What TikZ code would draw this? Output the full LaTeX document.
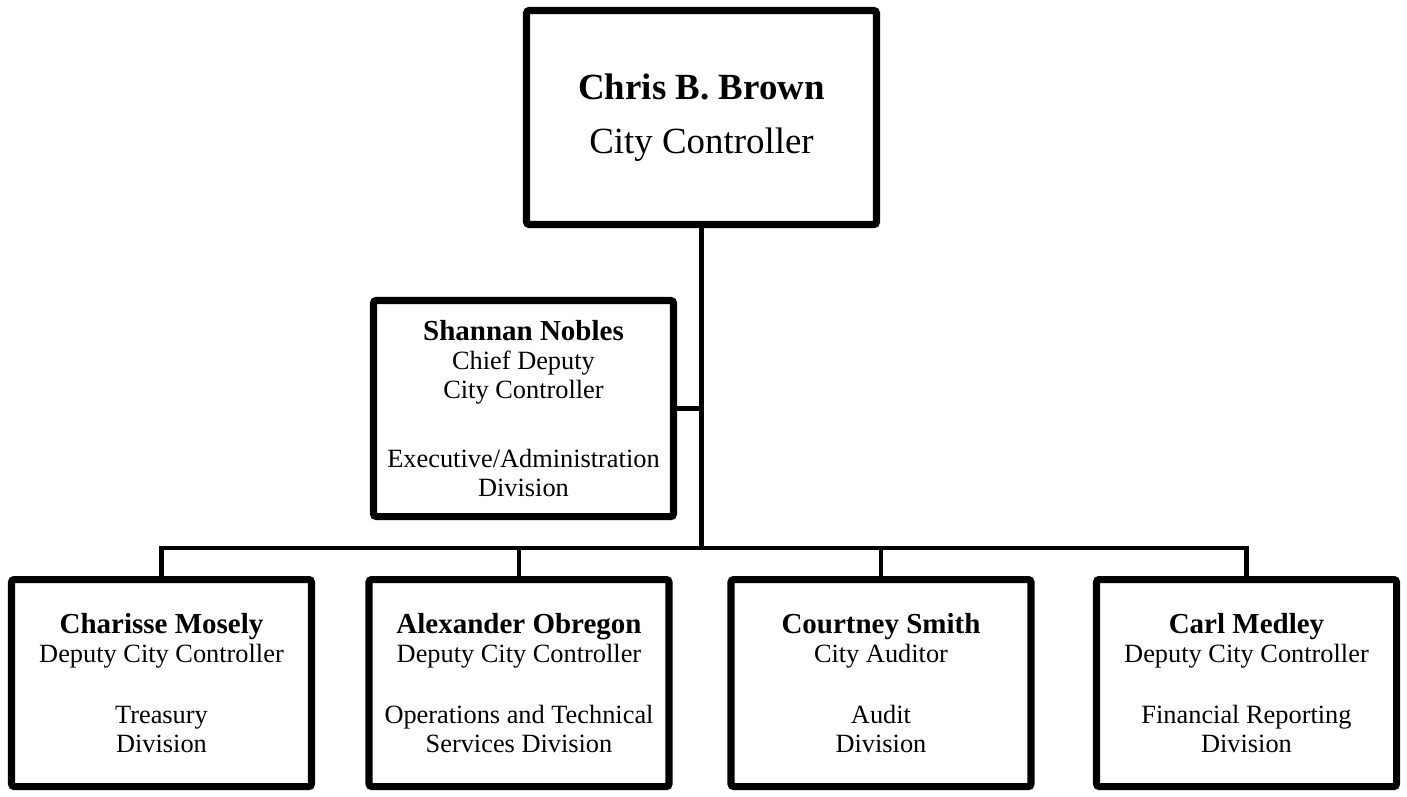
\documentclass[tikz,border=0pt]{standalone}
\usepackage{fontspec}
\setmainfont{Liberation Serif}
\usetikzlibrary{shadows}

\newcommand{\who}[1]{{\fontsize{16.5}{16.5}\selectfont\bfseries #1}}

\begin{document}
\begin{tikzpicture}[
    orgbox/.style={draw, line width=4pt, rounded corners=1.5pt, fill=white, align=center,
      minimum width=6cm, minimum height=4.14cm, inner sep=0pt,
      font=\fontsize{15}{16.5}\selectfont,
      drop shadow={shadow xshift=1.5pt, shadow yshift=-2pt, opacity=0.3}},
    link/.style={line width=2.8pt}
  ]
  \useasboundingbox (0,0) rectangle (28.14,-15.92);

  % top of the chart
  \node[orgbox, minimum width=7cm, minimum height=4.28cm, font=\fontsize{21}{31}\selectfont] (controller) at (14.03,-2.35)
    {\textbf{Chris B. Brown}\\City Controller};
  \node[orgbox, minimum height=4.32cm] (chiefdeputy) at (10.47,-8.17)
    {\who{Shannan Nobles}\\Chief Deputy\\City Controller\\[23pt]Executive/Administration\\Division};

  % divisions
  \node[orgbox] (treasury) at (3.23,-13.66)
    {\who{Charisse Mosely}\\Deputy City Controller\\[18pt]Treasury\\Division};
  \node[orgbox] (operations) at (10.38,-13.66)
    {\who{Alexander Obregon}\\Deputy City Controller\\[18pt]Operations and Technical\\Services Division};
  \node[orgbox] (audit) at (17.62,-13.66)
    {\who{Courtney Smith}\\City Auditor\\[18pt]Audit\\Division};
  \node[orgbox] (reporting) at (24.93,-13.66)
    {\who{Carl Medley}\\Deputy City Controller\\[18pt]Financial Reporting\\Division};

  % connectors
  \coordinate (bus) at (14.03,-10.96);
  \draw[link] (controller.south) -- (controller.south |- bus);
  \draw[link] (chiefdeputy.east) -- (chiefdeputy.east -| controller.south);
  \draw[link] (treasury.north) -- (treasury.north |- bus) -- (reporting.north |- bus) -- (reporting.north);
  \foreach \n in {operations, audit}
    \draw[link] (\n.north) -- (\n.north |- bus);
\end{tikzpicture}
\end{document}
